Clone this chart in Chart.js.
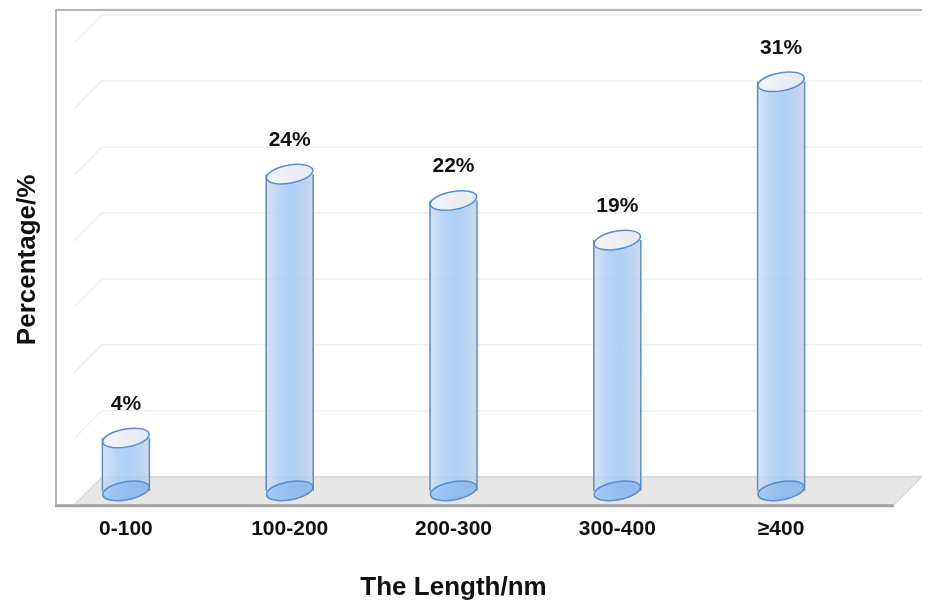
<!DOCTYPE html>
<html>
<head>
<meta charset="utf-8">
<script src="https://cdn.jsdelivr.net/npm/chart.js@4"></script>
<style>
  html, body { margin: 0; padding: 0; background: #fff; }
  #wrap { width: 932px; height: 605px; }
</style>
</head>
<body>
<div id="wrap"><canvas id="chart" width="932" height="605"></canvas></div>
<script>
const lengthBins = ['0-100', '100-200', '200-300', '300-400', '≥400'];
const percentages = [4, 24, 22, 19, 31];

const FONT = '"Liberation Sans", Arial, sans-serif';
const DEPTH = 14;            // bars stand halfway between the front and back planes
const BORDER = '#5b8ccc';

// floor, back wall, side wall and the outer frame
const stagePlugin = {
  id: 'stage',
  beforeDatasetsDraw(chart) {
    const { ctx, chartArea: area, scales: { y } } = chart;
    const wallLeft = area.left + 44;
    const wallRight = area.right + 45;
    const y0 = y.getPixelForValue(0);
    ctx.save();

    // grid on the back and left walls
    ctx.strokeStyle = '#efefef';
    ctx.lineWidth = 1.5;
    y.ticks.forEach(t => {
      if (t.value === 0) return;
      const py = y.getPixelForValue(t.value);
      ctx.beginPath();
      ctx.moveTo(wallLeft - DEPTH, py + DEPTH);
      ctx.lineTo(wallLeft + DEPTH, py - DEPTH);
      ctx.lineTo(wallRight + DEPTH, py - DEPTH);
      ctx.stroke();
    });

    // floor
    ctx.beginPath();
    ctx.moveTo(wallLeft - DEPTH, y0 + DEPTH);
    ctx.lineTo(wallRight - DEPTH, y0 + DEPTH);
    ctx.lineTo(wallRight + DEPTH, y0 - DEPTH);
    ctx.lineTo(wallLeft + DEPTH, y0 - DEPTH);
    ctx.closePath();
    ctx.fillStyle = '#e6e6e6';
    ctx.fill();
    ctx.strokeStyle = '#c9c9c9';
    ctx.lineWidth = 1;
    ctx.stroke();

    // frame: left edge, top edge, front floor edge
    const frameLeft = area.left + 12;
    const frameTop = y.getPixelForValue(y.max) - DEPTH - 5;
    ctx.strokeStyle = '#b4b4b4';
    ctx.lineWidth = 2;
    ctx.beginPath();
    ctx.moveTo(frameLeft, y0 + DEPTH + 1);
    ctx.lineTo(frameLeft, frameTop);
    ctx.lineTo(wallRight + DEPTH, frameTop);
    ctx.stroke();

    ctx.strokeStyle = '#a4a4a4';
    ctx.lineWidth = 3;
    ctx.beginPath();
    ctx.moveTo(frameLeft - 1, y0 + DEPTH + 1);
    ctx.lineTo(wallRight - DEPTH, y0 + DEPTH + 1);
    ctx.stroke();
    ctx.restore();
  }
};

function ellipsePath(ctx, cx, cy, rx, ry) {
  ctx.beginPath();
  ctx.ellipse(cx, cy, rx, ry, -0.18, 0, Math.PI * 2);
}

// each bar becomes a translucent cylinder with its value above it
const cylinderPlugin = {
  id: 'cylinders',
  afterDatasetsDraw(chart) {
    const { ctx } = chart;
    const meta = chart.getDatasetMeta(0);
    ctx.save();
    meta.data.forEach((bar, i) => {
      const rx = bar.width / 2;
      const ry = 9;
      const cx = bar.x;
      const top = bar.y;
      const base = bar.base;
      const left = cx - rx, right = cx + rx;

      // body
      const bodyGrad = ctx.createLinearGradient(left, 0, right, 0);
      bodyGrad.addColorStop(0, 'rgba(205,223,242,0.85)');
      bodyGrad.addColorStop(0.3, 'rgba(170,206,246,0.85)');
      bodyGrad.addColorStop(0.55, 'rgba(160,201,248,0.85)');
      bodyGrad.addColorStop(0.85, 'rgba(178,205,238,0.85)');
      bodyGrad.addColorStop(1, 'rgba(200,210,226,0.85)');
      ctx.beginPath();
      ctx.moveTo(left, top);
      ctx.lineTo(left, base);
      ctx.ellipse(cx, base, rx, ry, -0.18, Math.PI, 0, true);
      ctx.lineTo(right, top);
      ctx.closePath();
      ctx.fillStyle = bodyGrad;
      ctx.fill();

      // bottom cap, seen through the body
      const capGrad = ctx.createLinearGradient(left, 0, right, 0);
      capGrad.addColorStop(0, 'rgba(140,188,240,0.55)');
      capGrad.addColorStop(1, 'rgba(110,165,230,0.55)');
      ellipsePath(ctx, cx, base, rx, ry);
      ctx.fillStyle = capGrad;
      ctx.fill();
      ctx.strokeStyle = BORDER;
      ctx.lineWidth = 1.5;
      ctx.stroke();

      ctx.beginPath();
      ctx.moveTo(left, top);
      ctx.lineTo(left, base);
      ctx.moveTo(right, top);
      ctx.lineTo(right, base);
      ctx.stroke();

      // top cap
      const topGrad = ctx.createLinearGradient(left, top - ry, right, top + ry);
      topGrad.addColorStop(0, '#f4f6f9');
      topGrad.addColorStop(1, '#e2e8f0');
      ellipsePath(ctx, cx, top, rx, ry);
      ctx.fillStyle = topGrad;
      ctx.fill();
      ctx.strokeStyle = BORDER;
      ctx.stroke();

      // value label
      ctx.fillStyle = '#111';
      ctx.font = 'bold 21px ' + FONT;
      ctx.textAlign = 'center';
      ctx.textBaseline = 'middle';
      ctx.fillText(percentages[i] + '%', cx, top - 34);
    });
    ctx.restore();
  }
};

new Chart(document.getElementById('chart'), {
  type: 'bar',
  data: {
    labels: lengthBins,
    datasets: [{
      data: percentages,
      backgroundColor: 'rgba(0,0,0,0)',
      borderWidth: 0,
      barThickness: 47
    }]
  },
  options: {
    responsive: false,
    animation: false,
    layout: { padding: { left: 0, right: 69, top: 29, bottom: 0 } },
    plugins: {
      legend: { display: false },
      tooltip: { enabled: false }
    },
    scales: {
      x: {
        grid: { display: false, drawTicks: false },
        border: { display: false },
        ticks: {
          color: '#111',
          font: { family: FONT, size: 21, weight: 'bold' },
          padding: 26,
          maxRotation: 0,
          autoSkip: false
        },
        title: {
          display: true,
          text: 'The Length/nm',
          color: '#111',
          font: { family: FONT, size: 26, weight: 'bold' },
          padding: { top: 4.4, bottom: 1.4 }
        }
      },
      y: {
        min: 0,
        max: 35,
        ticks: { display: false, stepSize: 5 },
        grid: { display: false, drawTicks: false },
        border: { display: false },
        title: {
          display: true,
          text: 'Percentage/%',
          color: '#111',
          font: { family: FONT, size: 26, weight: 'bold' },
          padding: { top: 12, bottom: 0.8 }
        }
      }
    }
  },
  plugins: [stagePlugin, cylinderPlugin]
});
</script>
</body>
</html>
